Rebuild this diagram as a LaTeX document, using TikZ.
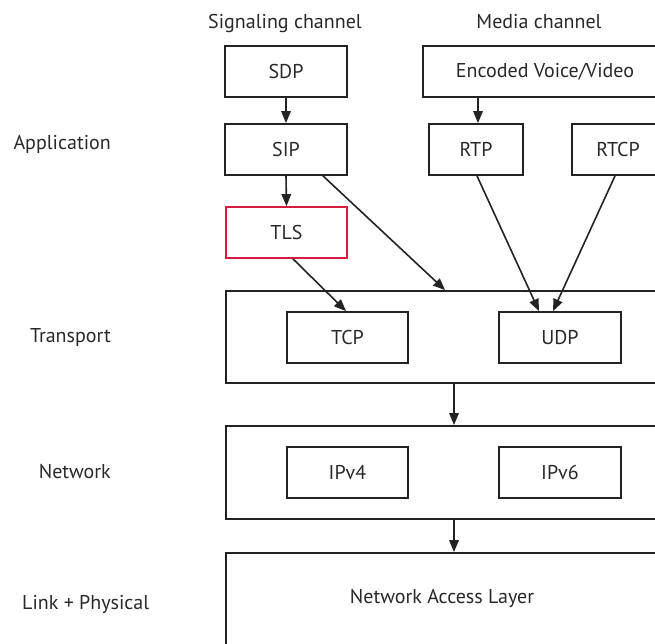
\documentclass[tikz,border=0pt]{standalone}
\usepackage{fontspec}
\setmainfont{PT Sans}
\usetikzlibrary{arrows.meta,calc}
\definecolor{ink}{RGB}{35,35,35}
\definecolor{txt}{RGB}{40,40,40}
\definecolor{tlsred}{RGB}{214,28,62}
\begin{document}
\begin{tikzpicture}[x=1pt,y=-1pt,
  every node/.style={font=\fontsize{20}{24}\selectfont, text=txt},
  box/.style={draw=ink, line width=1.8pt, inner sep=0pt},
  arr/.style={draw=ink, line width=1.6pt, -{Triangle[length=12pt,width=9.5pt]}},
  lbl/.style={inner sep=0pt}]
\useasboundingbox (0,0) rectangle (655,643);
% column headers
\node[lbl, anchor=base] (hsig) at (285,28) {Signaling channel};
\node[lbl, anchor=base] (hmed) at (539,28) {Media channel};
% layer labels
\node[lbl, anchor=base east] (lapp) at (111,149) {Application};
\node[lbl, anchor=base east] (ltr) at (111,342) {Transport};
\node[lbl, anchor=base east] (lnw) at (111,478) {Network};
\node[lbl, anchor=base west] (llp) at (22,609) {Link + Physical};
% application boxes
\node[box, minimum width=122pt, minimum height=51pt] (sdp) at (286,71.5) {SDP};
\node[box, minimum width=244pt, minimum height=51pt] (enc) at (545,71.5) {Encoded Voice/Video};
\node[box, minimum width=122pt, minimum height=51pt] (sip) at (286,149.5) {SIP};
\node[box, minimum width=94pt, minimum height=51pt] (rtp) at (476,149.5) {RTP};
\node[box, minimum width=92pt, minimum height=51pt] (rtcp) at (618,149.5) {RTCP};
\node[box, draw=tlsred, minimum width=121pt, minimum height=51pt] (tls) at (286.5,232.5) {TLS};
% transport
\node[box, minimum width=474pt, minimum height=92pt] (tr) at (463,337) {};
\node[box, minimum width=121pt, minimum height=51pt] (tcp) at (347.5,337.5) {TCP};
\node[box, minimum width=122pt, minimum height=51pt] (udp) at (560,337.5) {UDP};
% network
\node[box, minimum width=474pt, minimum height=93pt] (nw) at (463,472.5) {};
\node[box, minimum width=121pt, minimum height=51pt] (ipv4) at (347.5,472.5) {IPv4};
\node[box, minimum width=122pt, minimum height=51pt] (ipv6) at (560,472.5) {IPv6};
% network access layer
\node[box, minimum width=474pt, minimum height=120pt] (nal) at (463,613) {};
\node[lbl] (naltxt) at (442,598) {Network Access Layer};
% connectors
\draw[arr] (sdp.south) -- (sip.north);
\draw[arr] ([xshift=2pt]rtp.north |- enc.south) -- ([xshift=2pt]rtp.north);
\draw[arr] (sip.south) -- (tls.north);
\draw[arr] ([xshift=37pt]sip.south) -- ([xshift=220pt]tr.north west);
\draw[arr] ([xshift=6.5pt]tls.south) -- ([xshift=-1.5pt]tcp.north);
\draw[arr] ([xshift=1pt]rtp.south) -- ([xshift=-21pt]udp.north);
\draw[arr] ([xshift=-3pt]rtcp.south) -- ([xshift=-7pt]udp.north);
\draw[arr] (tr.south west -| 454,0) -- (nw.north west -| 454,0);
\draw[arr] (nw.south west -| 454,0) -- (nal.north west -| 454,0);
\end{tikzpicture}
\end{document}
